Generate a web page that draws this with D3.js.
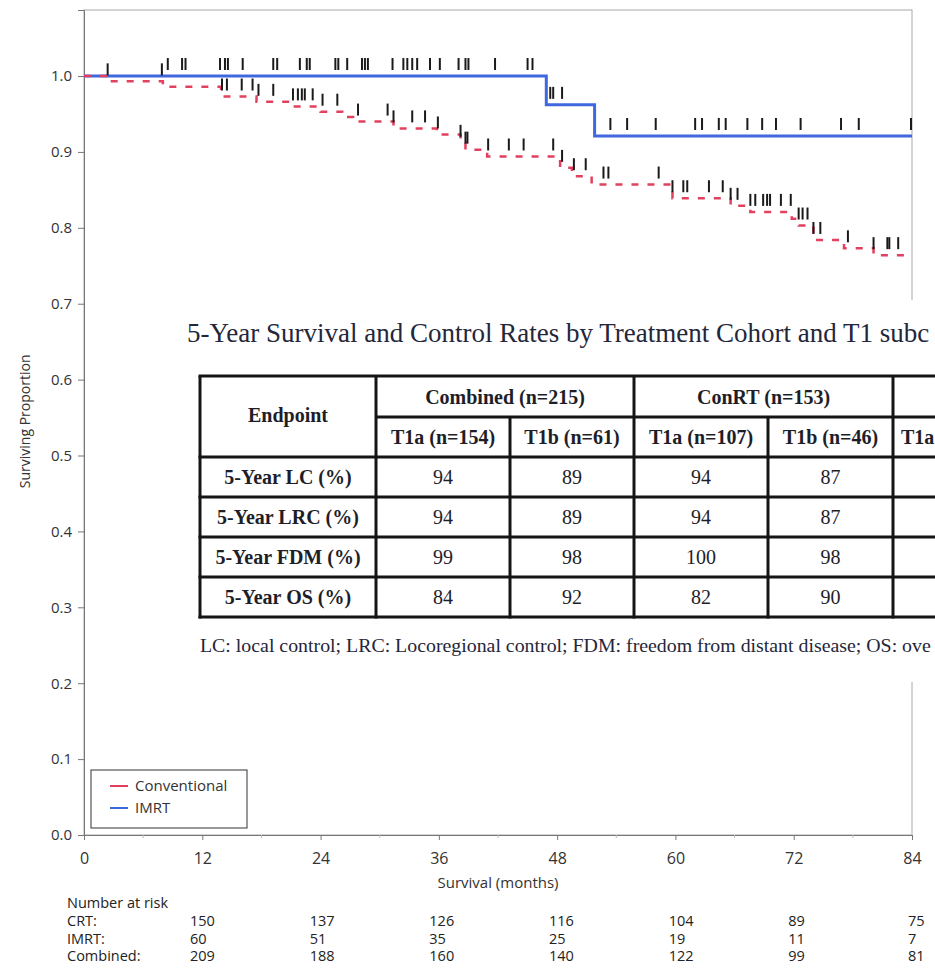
<!DOCTYPE html>
<html>
<head>
<meta charset="utf-8">
<script src="https://cdn.jsdelivr.net/npm/d3@7"></script>
<style>
html, body { margin: 0; padding: 0; background: #fff; overflow: hidden; }
svg { display: block; }
</style>
</head>
<body>
<div id="chart"></div>
<script>
// ---- data ----
var monthTicks = [0, 12, 24, 36, 48, 60, 72, 84];
var minorTicks = [6, 18, 30, 42, 54, 66, 78];
var propTicks = [0, 0.1, 0.2, 0.3, 0.4, 0.5, 0.6, 0.7, 0.8, 0.9, 1.0];

// Kaplan-Meier steps: time (months) where the curve drops, and the level after it
var convTimes = [0, 2.4, 8.0, 13.9, 17.5, 21.2, 24.0, 26.2, 27.3, 31.4, 35.8, 38.2, 38.7, 40.9,
                 48.3, 49.5, 51.5, 59.7, 65.6, 67.6, 71.8, 72.5, 74.0, 77.1, 80.1];
var convSurv  = [1.0, 0.993, 0.986, 0.973, 0.966, 0.960, 0.953, 0.946, 0.940, 0.931, 0.923, 0.912, 0.903, 0.894,
                 0.879, 0.868, 0.857, 0.839, 0.829, 0.821, 0.812, 0.803, 0.784, 0.773, 0.764];
var imrtTimes = [0, 46.9, 51.8];
var imrtSurv  = [1.0, 0.962, 0.921];

// censored observations
var convCensor = [2.4, 7.9, 14.0, 14.5, 16.0, 17.1, 17.7, 19.2, 21.2, 21.7, 22.1, 22.4, 23.2, 24.2, 25.7, 27.8,
                  30.8, 31.4, 33.3, 34.6, 35.9, 38.2, 38.7, 38.9, 41.0, 43.1, 44.6, 47.6, 48.5, 49.7, 50.9,
                  52.7, 53.2, 58.3, 59.7, 60.8, 61.2, 63.4, 64.8, 65.6, 66.3, 67.6, 68.1, 68.9, 69.3, 69.6,
                  70.7, 71.7, 72.5, 72.9, 73.4, 74.0, 74.7, 77.5, 80.1, 81.5, 81.7, 82.6];
var imrtCensor = [8.5, 9.95, 10.3, 13.8, 14.3, 14.6, 16.1, 19.2, 19.6, 21.9, 22.6, 22.9, 25.5, 25.8, 26.7,
                  28.2, 28.5, 28.8, 31.3, 32.4, 32.8, 33.3, 33.8, 35.1, 36.1, 38.0, 38.7, 39.0, 41.7, 45.0, 45.5,
                  47.3, 47.6, 48.5, 53.4, 55.1, 58.0, 62.0, 62.7, 64.4, 65.1, 67.3, 68.8, 70.2, 72.7, 76.8, 78.6, 83.9];

var seriesNames = ["Conventional", "IMRT"];

// number at risk
var riskTimes = [12, 24, 36, 48, 60, 72, 84];
var riskGroups = ["CRT:", "IMRT:", "Combined:"];
var riskCRT = [150, 137, 126, 116, 104, 89, 75];
var riskIMRT = [60, 51, 35, 25, 19, 11, 7];
var riskCombined = [209, 188, 160, 140, 122, 99, 81];

// overlaid table (cut off at the right edge in the figure)
var tableTitle = "5-Year Survival and Control Rates by Treatment Cohort and T1 subc";
var cohorts = ["Combined (n=215)", "ConRT (n=153)"];
var subgroups = ["T1a (n=154)", "T1b (n=61)", "T1a (n=107)", "T1b (n=46)", "T1a"];
var endpoints = ["5-Year LC (%)", "5-Year LRC (%)", "5-Year FDM (%)", "5-Year OS (%)"];
var combinedT1a = [94, 94, 99, 84];
var combinedT1b = [89, 89, 98, 92];
var conrtT1a = [94, 94, 100, 82];
var conrtT1b = [87, 87, 98, 90];
var footnote = "LC: local control; LRC: Locoregional control; FDM: freedom from distant disease; OS: ove";

// ---- layout ----
var W = 935, H = 970;
var sans = "'Open Sans', 'Liberation Sans', Arial, sans-serif";
var serif = "'Liberation Serif', 'Times New Roman', serif";
var convColor = "#e2405e", imrtColor = "#3f68df";

var svg = d3.select("#chart").append("svg")
    .attr("width", W)
    .attr("height", H);

var x = d3.scaleLinear().domain([0, 84]).range([84, 912]);
var y = d3.scaleLinear().domain([0, 1.087]).range([835, 10]);

// plot frame
svg.append("rect")
    .attr("x", x(0)).attr("y", y(1.087))
    .attr("width", x(84) - x(0)).attr("height", y(0) - y(1.087))
    .attr("fill", "none").attr("stroke", "#a8a8a8").attr("stroke-width", 1);

// axes
var xAxis = svg.append("g")
    .attr("transform", "translate(0," + y(0) + ")")
    .call(d3.axisBottom(x).tickValues(monthTicks).tickSize(5).tickPadding(13));
xAxis.selectAll("line").attr("stroke", "#777");
xAxis.select(".domain").attr("stroke", "#777");
xAxis.selectAll("text").attr("font-family", sans).attr("font-size", 16).attr("fill", "#333");

svg.append("g")
    .attr("transform", "translate(0," + y(0) + ")")
    .selectAll("line").data(minorTicks).enter().append("line")
    .attr("x1", function(d) { return x(d); }).attr("x2", function(d) { return x(d); })
    .attr("y1", 0).attr("y2", 3)
    .attr("stroke", "#bbb");

var yAxis = svg.append("g")
    .attr("transform", "translate(" + x(0) + ",0)")
    .call(d3.axisLeft(y).tickValues(propTicks).tickFormat(d3.format(".1f")).tickSize(6).tickPadding(6));
yAxis.selectAll("line").attr("stroke", "#777");
yAxis.select(".domain").attr("stroke", "#777");
yAxis.selectAll("text").attr("font-family", sans).attr("font-size", 15).attr("fill", "#333");

svg.append("text")
    .attr("transform", "translate(30," + y(0.545) + ") rotate(-90)")
    .attr("text-anchor", "middle")
    .attr("font-family", sans).attr("font-size", 14).attr("fill", "#333")
    .text("Surviving Proportion");

svg.append("text")
    .attr("x", x(42)).attr("y", 888)
    .attr("text-anchor", "middle")
    .attr("font-family", sans).attr("font-size", 15).attr("fill", "#333")
    .text("Survival (months)");

// KM curves
var stepLine = d3.line()
    .x(function(d) { return x(d[0]); })
    .y(function(d) { return y(d[1]); })
    .curve(d3.curveStepAfter);

var makePoints = function(times, surv) {
  var pts = times.map(function(t, i) { return [t, surv[i]]; });
  pts.push([84, surv[surv.length - 1]]);
  return pts;
};

var survAt = function(times, surv, t) {
  return surv[d3.bisectRight(times, t) - 1];
};

svg.append("path")
    .attr("d", stepLine(makePoints(imrtTimes, imrtSurv)))
    .attr("fill", "none").attr("stroke", imrtColor).attr("stroke-width", 3);

svg.append("path")
    .attr("d", stepLine(makePoints(convTimes, convSurv)))
    .attr("fill", "none").attr("stroke", convColor).attr("stroke-width", 2.5)
    .attr("stroke-dasharray", "7,9");

// censor marks
var drawCensors = function(list, times, surv) {
  svg.append("g").selectAll("line").data(list).enter().append("line")
      .attr("x1", function(d) { return x(d); })
      .attr("x2", function(d) { return x(d); })
      .attr("y1", function(d) { return y(survAt(times, surv, d)) - 18; })
      .attr("y2", function(d) { return y(survAt(times, surv, d)) - 6; })
      .attr("stroke", "#1a1a1a").attr("stroke-width", 2);
};
drawCensors(imrtCensor, imrtTimes, imrtSurv);
drawCensors(convCensor, convTimes, convSurv);

// legend
var legend = svg.append("g");
legend.append("rect")
    .attr("x", 91).attr("y", 770).attr("width", 156).attr("height", 58)
    .attr("fill", "#fff").attr("stroke", "#333").attr("stroke-width", 1);
var legendColors = [convColor, imrtColor];
seriesNames.forEach(function(name, i) {
  var ly = 786 + i * 22;
  legend.append("line")
      .attr("x1", 110).attr("x2", 128).attr("y1", ly).attr("y2", ly)
      .attr("stroke", legendColors[i]).attr("stroke-width", 2);
  legend.append("text")
      .attr("x", 135).attr("y", ly + 5)
      .attr("font-family", sans).attr("font-size", 15).attr("fill", "#333")
      .text(name);
});

// number at risk
var riskX = d3.scaleLinear().domain([12, 84]).range([190, 908]);
svg.append("text")
    .attr("x", 67).attr("y", 908)
    .attr("font-family", sans).attr("font-size", 14.5).attr("fill", "#222")
    .text("Number at risk");
var riskRows = [riskCRT, riskIMRT, riskCombined];
riskGroups.forEach(function(g, r) {
  var ry = 926 + r * 17.5;
  svg.append("text")
      .attr("x", 67).attr("y", ry)
      .attr("font-family", sans).attr("font-size", 14.5).attr("fill", "#222")
      .text(g);
  svg.append("g").selectAll("text").data(riskRows[r]).enter().append("text")
      .attr("x", function(d, i) { return riskX(riskTimes[i]); })
      .attr("y", ry)
      .attr("font-family", sans).attr("font-size", 14.5).attr("fill", "#222")
      .text(function(d) { return d; });
});

// ---- overlaid table image ----
var overlay = svg.append("g");
overlay.append("rect")
    .attr("x", 185).attr("y", 300).attr("width", W - 185).attr("height", 382)
    .attr("fill", "#fff");

overlay.append("text")
    .attr("x", 187).attr("y", 342)
    .attr("font-family", serif).attr("font-size", 27).attr("fill", "#24263a")
    .text(tableTitle);

var colEdges = [200, 376, 510, 634, 768, 893, 1020];
var rowEdges = [376, 417, 457, 497, 537, 577, 617];
var ink = "#151515";

var hline = function(yy, x1, x2) {
  overlay.append("line").attr("x1", x1).attr("x2", x2).attr("y1", yy).attr("y2", yy)
      .attr("stroke", ink).attr("stroke-width", 3);
};
var vline = function(xx, y1, y2) {
  overlay.append("line").attr("x1", xx).attr("x2", xx).attr("y1", y1).attr("y2", y2)
      .attr("stroke", ink).attr("stroke-width", 3);
};
hline(rowEdges[0], colEdges[0] - 1.5, W);
hline(rowEdges[1], colEdges[1], W);
for (var r = 2; r < rowEdges.length; r++) hline(rowEdges[r], colEdges[0] - 1.5, W);
[0, 1, 3, 5].forEach(function(c) { vline(colEdges[c], rowEdges[0], rowEdges[6] + 1.5); });
[2, 4].forEach(function(c) { vline(colEdges[c], rowEdges[1], rowEdges[6] + 1.5); });

var cellText = function(txt, cx, cy, bold, anchor) {
  overlay.append("text")
      .attr("x", cx).attr("y", cy)
      .attr("text-anchor", anchor || "middle")
      .attr("dominant-baseline", "central")
      .attr("font-family", serif).attr("font-size", 20)
      .attr("font-weight", bold ? "bold" : "normal")
      .attr("fill", "#1e1e28")
      .text(txt);
};
var mid = function(a, b) { return (a + b) / 2; };

cellText("Endpoint", mid(colEdges[0], colEdges[1]), mid(rowEdges[0], rowEdges[2]) - 2, true);
cohorts.forEach(function(c, i) {
  cellText(c, mid(colEdges[1 + 2 * i], colEdges[3 + 2 * i]), mid(rowEdges[0], rowEdges[1]), true);
});
subgroups.forEach(function(s, i) {
  if (i < 4) cellText(s, mid(colEdges[1 + i], colEdges[2 + i]), mid(rowEdges[1], rowEdges[2]), true);
  else cellText(s, colEdges[5] + 8, mid(rowEdges[1], rowEdges[2]), true, "start");
});
var valueCols = [combinedT1a, combinedT1b, conrtT1a, conrtT1b];
endpoints.forEach(function(e, r) {
  var cy = mid(rowEdges[2 + r], rowEdges[3 + r]);
  cellText(e, mid(colEdges[0], colEdges[1]), cy, true);
  valueCols.forEach(function(col, c) {
    cellText(col[r], mid(colEdges[1 + c], colEdges[2 + c]), cy, false);
  });
});

overlay.append("text")
    .attr("x", 200).attr("y", 652)
    .attr("font-family", serif).attr("font-size", 19.85).attr("fill", "#24263a")
    .text(footnote);
</script>
</body>
</html>
